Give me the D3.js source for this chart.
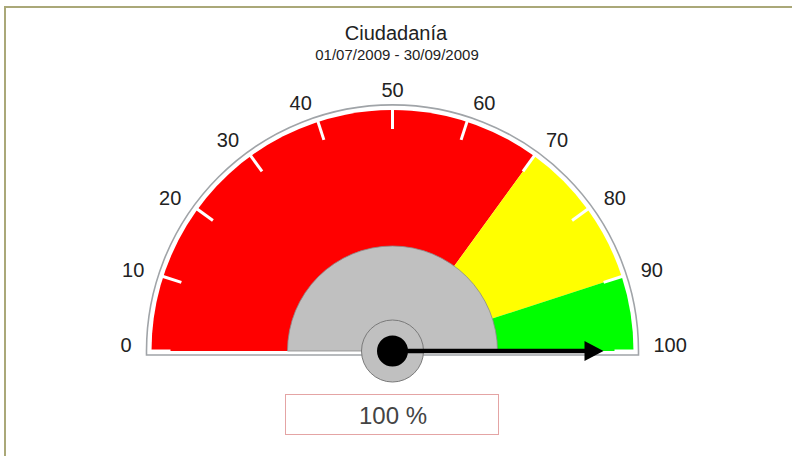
<!DOCTYPE html>
<html>
<head>
<meta charset="utf-8">
<script src="https://cdn.jsdelivr.net/npm/d3@7"></script>
<style>
html,body{margin:0;padding:0;background:#fff;}
svg{display:block;font-family:"Liberation Sans",Arial,sans-serif;}
</style>
</head>
<body>
<script>
const title = "Ciudadanía";
const subtitle = "01/07/2009 - 30/09/2009";
const tickValues = [0,10,20,30,40,50,60,70,80,90,100];
const bandStarts = [0,70,90];
const bandEnds = [70,90,100];
const bandColors = ["#ff0000","#ffff00","#00ff00"];
const gaugeValue = 100;
const valueLabel = "100 %";

const W = 792, H = 456;
const cx = 392.5, cy = 351;
const rOutline = 246, rBand = 241, rTickIn = 222, rInner = 105, rLabel = 261;

const svg = d3.select("body").append("svg").attr("width", W).attr("height", H);

// frame
svg.append("rect").attr("x",5).attr("y",7).attr("width",W).attr("height",H)
  .attr("fill","#fff").attr("stroke","#aaa878").attr("stroke-width",2);

// titles
svg.append("text").attr("x",396).attr("y",40).attr("text-anchor","middle")
  .attr("font-size",20).attr("fill","#222").text(title);
svg.append("text").attr("x",397).attr("y",60).attr("text-anchor","middle")
  .attr("font-size",15).attr("fill","#222").text(subtitle);

const angle = d3.scaleLinear().domain([0,100]).range([-Math.PI/2, Math.PI/2]);
const g = svg.append("g").attr("transform",`translate(${cx},${cy})`);

// outline
const outlinePath = d3.path();
outlinePath.moveTo(-rOutline, 4);
outlinePath.lineTo(-rOutline, 0);
outlinePath.arc(0, 0, rOutline, Math.PI, 0);
outlinePath.lineTo(rOutline, 4);
outlinePath.closePath();
g.append("path").attr("d", outlinePath.toString())
  .attr("fill","#fff").attr("stroke","#a0a4a8").attr("stroke-width",1.6);

// bands
const bandArc = d3.arc().innerRadius(0).outerRadius(rBand);
g.selectAll("path.band").data(bandStarts.map((s,i)=>({s, e: bandEnds[i], c: bandColors[i]})))
  .enter().append("path").attr("class","band")
  .attr("d", d => bandArc({startAngle: angle(d.s), endAngle: angle(d.e)}))
  .attr("fill", d => d.c);

// ticks
g.selectAll("line.tick").data(tickValues).enter().append("line")
  .attr("x1", d => rTickIn*Math.sin(angle(d)))
  .attr("y1", d => -rTickIn*Math.cos(angle(d)))
  .attr("x2", d => (rBand+1)*Math.sin(angle(d)))
  .attr("y2", d => -(rBand+1)*Math.cos(angle(d)))
  .attr("stroke","#fff").attr("stroke-width",3);

// tick labels
g.selectAll("text.lbl").data(tickValues).enter().append("text")
  .attr("x", d => rLabel*Math.sin(angle(d)))
  .attr("y", d => Math.min(-rLabel*Math.cos(angle(d)), -6))
  .attr("text-anchor", d => d < 50 ? "end" : (d > 50 ? "start" : "middle"))
  .attr("dominant-baseline","central")
  .attr("font-size",20).attr("fill","#222")
  .text(d => d);

// inner gray half-disc
const innerArc = d3.arc().innerRadius(0).outerRadius(rInner)
  .startAngle(-Math.PI/2).endAngle(Math.PI/2);
g.append("path").attr("d", innerArc()).attr("fill","#c0c0c0")
  .attr("stroke","#8a8a8a").attr("stroke-width",0.8);

// hub
g.append("circle").attr("r",31).attr("fill","#c0c0c0").attr("stroke","#7a7a7a").attr("stroke-width",1);

// needle
const a = angle(gaugeValue);
const tipR = 211, baseR = 192, halfW = 10;
const ux = Math.sin(a), uy = -Math.cos(a);
const px = -uy, py = ux;
g.append("line").attr("x1",0).attr("y1",0)
  .attr("x2", baseR*ux + 2*ux).attr("y2", baseR*uy + 2*uy)
  .attr("stroke","#000").attr("stroke-width",4.5);
g.append("path")
  .attr("d", `M${tipR*ux},${tipR*uy} L${baseR*ux+halfW*px},${baseR*uy+halfW*py} L${baseR*ux-halfW*px},${baseR*uy-halfW*py} Z`)
  .attr("fill","#000");
g.append("circle").attr("r",15.5).attr("fill","#000");

// value box
svg.append("rect").attr("x",285.5).attr("y",394.5).attr("width",213).attr("height",40)
  .attr("fill","#fff").attr("stroke","#e4a4a4").attr("stroke-width",1);
svg.append("text").attr("x",393).attr("y",415).attr("text-anchor","middle")
  .attr("dominant-baseline","central").attr("font-size",24).attr("fill","#444")
  .text(valueLabel);
</script>
</body>
</html>
